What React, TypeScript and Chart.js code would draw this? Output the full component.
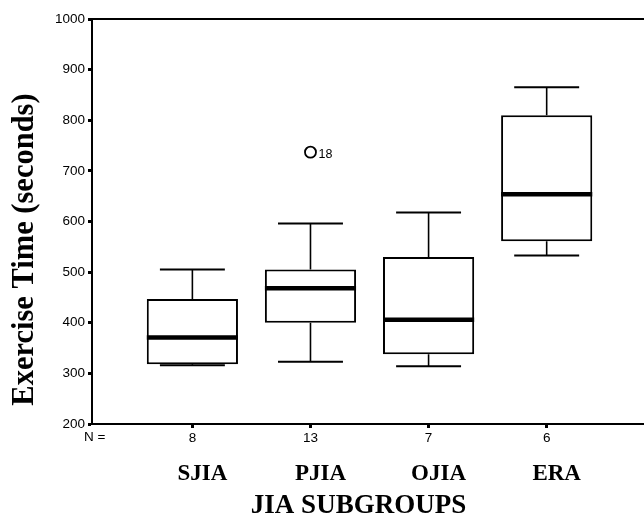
import React, { useEffect, useRef } from "react";
import { Chart, registerables } from "chart.js";

Chart.register(...registerables);

// ---- data ----
const categories = ["SJIA", "PJIA", "OJIA", "ERA"];
const nCounts = ["8", "13", "7", "6"];
const whiskerLow = [316, 323, 314, 533];
const q1 = [318, 400, 338, 561];
const median = [371, 468, 406, 654];
const q3 = [447, 505, 530, 810];
const whiskerHigh = [505, 596, 618, 865];
const outlierCategory = ["PJIA"];
const outlierValue = [737];
const outlierCase = ["18"];
const yMin = 200;
const yMax = 1000;
const yStep = 100;
const yTitle = "Exercise Time (seconds)";
const xTitle = "JIA SUBGROUPS";
const nPrefix = "N =";

const NARROW = '"Liberation Sans", Arial, sans-serif';
const SERIF = '"Liberation Serif", "Times New Roman", serif';

const X_MIN = 0.15;
const X_MAX = 4.83;
const BOX_HALF = 0.386;
const CAP_HALF = 0.275;

const pos = (i: number) => i + 1;

const textPlugin = {
  id: "extraText",
  afterDraw(chart: any) {
    const { ctx, scales } = chart;
    ctx.save();
    ctx.fillStyle = "#000";
    // N =
    ctx.font = "13.5px " + NARROW;
    ctx.textAlign = "left";
    ctx.textBaseline = "middle";
    ctx.fillText(nPrefix, 84, scales.x.top + 13.5);
    // outlier labels
    ctx.font = "12.5px " + NARROW;
    outlierCategory.forEach((c, k) => {
      const i = categories.indexOf(c);
      const px = scales.x.getPixelForValue(pos(i));
      const py = scales.y.getPixelForValue(outlierValue[k]);
      ctx.fillText(outlierCase[k], px + 8, py + 2);
    });
    // x title
    ctx.font = "bold 27px " + SERIF;
    ctx.textAlign = "center";
    ctx.textBaseline = "alphabetic";
    ctx.fillText(xTitle, 358.5, 513);
    // y title
    ctx.translate(33, 249.5);
    ctx.rotate(-Math.PI / 2);
    ctx.font = "bold 30.5px " + SERIF;
    ctx.fillText(yTitle, 0, 0);
    ctx.restore();
  },
};

export default function App() {
  const ref = useRef<HTMLCanvasElement | null>(null);

  useEffect(() => {
    if (!ref.current) return;
    const boxData = categories.map((_, i) => ({ x: pos(i), y: [q1[i], q3[i]] }));
    const whiskers: any[] = [];
    const caps: any[] = [];
    const medians: any[] = [];
    categories.forEach((_, i) => {
      const x = pos(i);
      whiskers.push({ x, y: q3[i] }, { x, y: whiskerHigh[i] }, { x, y: null });
      whiskers.push({ x, y: q1[i] }, { x, y: whiskerLow[i] }, { x, y: null });
      caps.push({ x: x - CAP_HALF, y: whiskerHigh[i] }, { x: x + CAP_HALF, y: whiskerHigh[i] }, { x, y: null });
      caps.push({ x: x - CAP_HALF, y: whiskerLow[i] }, { x: x + CAP_HALF, y: whiskerLow[i] }, { x, y: null });
      medians.push({ x: x - BOX_HALF, y: median[i] }, { x: x + BOX_HALF, y: median[i] }, { x, y: null });
    });
    const outliers = outlierCategory.map((c, k) => ({ x: pos(categories.indexOf(c)), y: outlierValue[k] }));

    const catTicks = (s: any) => {
      s.ticks = categories.map((_, i) => ({ value: pos(i) }));
    };

    const chart = new Chart(ref.current, {
      type: "bar",
      data: {
        datasets: [
          {
            type: "bar",
            data: boxData as any,
            backgroundColor: "#fff",
            borderColor: "#000",
            borderWidth: 2,
            borderSkipped: false,
            categoryPercentage: 1,
            barPercentage: 0.772,
            xAxisID: "x",
            yAxisID: "y",
            order: 4,
          } as any,
          {
            type: "line",
            data: whiskers,
            borderColor: "#000",
            borderWidth: 1.6,
            pointRadius: 0,
            spanGaps: false,
            xAxisID: "x",
            yAxisID: "y",
            order: 3,
          },
          {
            type: "line",
            data: caps,
            borderColor: "#000",
            borderWidth: 2,
            pointRadius: 0,
            spanGaps: false,
            xAxisID: "x",
            yAxisID: "y",
            order: 2,
          },
          {
            type: "line",
            data: medians,
            borderColor: "#000",
            borderWidth: 4.5,
            borderCapStyle: "butt",
            pointRadius: 0,
            spanGaps: false,
            xAxisID: "x",
            yAxisID: "y",
            order: 1,
          },
          {
            type: "scatter",
            data: outliers,
            pointRadius: 5.5,
            pointBorderWidth: 1.8,
            pointBackgroundColor: "#fff",
            pointBorderColor: "#000",
            showLine: false,
            xAxisID: "x",
            yAxisID: "y",
            order: 0,
          },
        ] as any,
      },
      options: {
        responsive: false,
        animation: false,
        devicePixelRatio: 1,
        layout: { padding: 0 },
        plugins: { legend: { display: false }, tooltip: { enabled: false } },
        scales: {
          x: {
            type: "linear",
            position: "bottom",
            offset: false,
            min: X_MIN,
            max: X_MAX,
            weight: 0,
            afterBuildTicks: catTicks,
            afterFit: (s: any) => {
              s.height = 30;
            },
            ticks: {
              callback: (_v: any, i: number) => nCounts[i],
              font: { family: NARROW, size: 13.5 },
              color: "#000",
              padding: 2,
              maxRotation: 0,
              autoSkip: false,
            },
            grid: { offset: false, drawOnChartArea: false, drawTicks: true, tickLength: 4, tickWidth: 3, tickColor: "#000" },
            border: { display: true, color: "#000", width: 2 },
          },
          xc: {
            type: "linear",
            position: "bottom",
            offset: false,
            min: X_MIN,
            max: X_MAX,
            weight: 1,
            afterBuildTicks: catTicks,
            afterFit: (s: any) => {
              s.height = 63;
            },
            ticks: {
              callback: (_v: any, i: number) => categories[i],
              font: { family: SERIF, size: 23, weight: "bold" },
              color: "#000",
              padding: 6,
              labelOffset: 10,
              maxRotation: 0,
              autoSkip: false,
            },
            grid: { display: false, drawTicks: false, offset: false },
            border: { display: false },
          },
          xt: {
            type: "linear",
            position: "top",
            offset: false,
            min: X_MIN,
            max: X_MAX,
            afterBuildTicks: catTicks,
            afterFit: (s: any) => {
              s.height = 19;
            },
            ticks: { display: false },
            grid: { drawOnChartArea: false, drawTicks: false, offset: false },
            border: { display: true, color: "#000", width: 2 },
          },
          y: {
            type: "linear",
            position: "left",
            min: yMin,
            max: yMax,
            afterFit: (s: any) => {
              s.width = 92;
            },
            ticks: {
              stepSize: yStep,
              callback: (v: any) => String(v),
              font: { family: NARROW, size: 13.5 },
              color: "#000",
              padding: 3,
            },
            grid: { drawOnChartArea: false, drawTicks: true, tickLength: 4, tickWidth: 3, tickColor: "#000" },
            border: { display: true, color: "#000", width: 2 },
          },
        },
      } as any,
      plugins: [textPlugin],
    });
    return () => chart.destroy();
  }, []);

  return (
    <div
      style={{
        position: "fixed",
        left: 0,
        top: 0,
        width: 644,
        height: 517,
        overflow: "hidden",
        background: "#fff",
      }}
    >
      <canvas ref={ref} width={652} height={517} />
    </div>
  );
}
